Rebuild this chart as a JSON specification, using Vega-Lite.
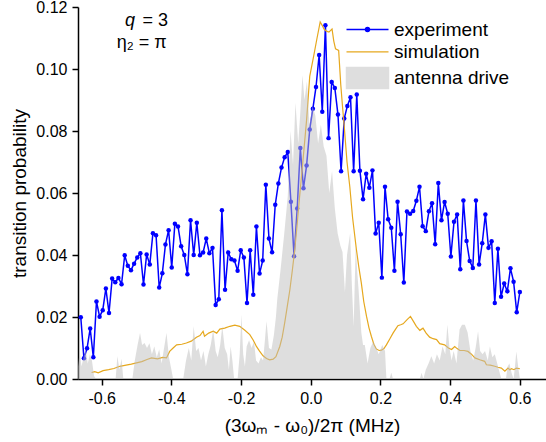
{
  "$schema": "https://vega.github.io/schema/vega-lite/v6.json",
  "width": 468,
  "height": 372,
  "autosize": {"type": "none"},
  "padding": {"left": 78, "top": 7, "right": 0, "bottom": 63},
  "background": "white",
  "config": {
    "view": {"stroke": null},
    "font": "Liberation Sans",
    "axis": {
      "grid": false,
      "domainColor": "black",
      "domainWidth": 1.5,
      "tickColor": "black",
      "tickWidth": 1.5,
      "labelColor": "black",
      "titleColor": "black",
      "labelFontSize": 16,
      "titleFontSize": 19,
      "titleFontWeight": "normal",
      "labelFlush": false,
      "labelOverlap": false
    }
  },
  "datasets": {
    "exp": [
      {"x": -0.660, "y": 0.0199}, {"x": -0.651, "y": 0.0067}, {"x": -0.642, "y": 0.0099}, {"x": -0.633, "y": 0.0163},
      {"x": -0.624, "y": 0.0070}, {"x": -0.615, "y": 0.0250}, {"x": -0.606, "y": 0.0201}, {"x": -0.597, "y": 0.0222},
      {"x": -0.588, "y": 0.0292}, {"x": -0.579, "y": 0.0213}, {"x": -0.570, "y": 0.0324}, {"x": -0.561, "y": 0.0312},
      {"x": -0.552, "y": 0.0326}, {"x": -0.543, "y": 0.0306}, {"x": -0.534, "y": 0.0399}, {"x": -0.525, "y": 0.0365},
      {"x": -0.516, "y": 0.0351}, {"x": -0.507, "y": 0.0372}, {"x": -0.498, "y": 0.0392}, {"x": -0.489, "y": 0.0406},
      {"x": -0.480, "y": 0.0305}, {"x": -0.471, "y": 0.0402}, {"x": -0.462, "y": 0.0369}, {"x": -0.453, "y": 0.0470},
      {"x": -0.444, "y": 0.0464}, {"x": -0.435, "y": 0.0295}, {"x": -0.426, "y": 0.0341}, {"x": -0.417, "y": 0.0434},
      {"x": -0.408, "y": 0.0480}, {"x": -0.399, "y": 0.0360}, {"x": -0.390, "y": 0.0501}, {"x": -0.381, "y": 0.0492},
      {"x": -0.372, "y": 0.0428}, {"x": -0.363, "y": 0.0400}, {"x": -0.354, "y": 0.0338}, {"x": -0.345, "y": 0.0512},
      {"x": -0.336, "y": 0.0400}, {"x": -0.327, "y": 0.0504}, {"x": -0.318, "y": 0.0399}, {"x": -0.309, "y": 0.0408},
      {"x": -0.300, "y": 0.0453}, {"x": -0.291, "y": 0.0406}, {"x": -0.282, "y": 0.0423}, {"x": -0.273, "y": 0.0239},
      {"x": -0.264, "y": 0.0257}, {"x": -0.255, "y": 0.0544}, {"x": -0.246, "y": 0.0288}, {"x": -0.237, "y": 0.0408},
      {"x": -0.228, "y": 0.0386}, {"x": -0.219, "y": 0.0382}, {"x": -0.210, "y": 0.0349}, {"x": -0.201, "y": 0.0415},
      {"x": -0.192, "y": 0.0392}, {"x": -0.183, "y": 0.0245}, {"x": -0.174, "y": 0.0415}, {"x": -0.165, "y": 0.0272},
      {"x": -0.156, "y": 0.0492}, {"x": -0.147, "y": 0.0340}, {"x": -0.138, "y": 0.0382}, {"x": -0.129, "y": 0.0627},
      {"x": -0.120, "y": 0.0453}, {"x": -0.111, "y": 0.0409}, {"x": -0.102, "y": 0.0562}, {"x": -0.093, "y": 0.0631},
      {"x": -0.084, "y": 0.0682}, {"x": -0.075, "y": 0.0715}, {"x": -0.066, "y": 0.0732}, {"x": -0.057, "y": 0.0572},
      {"x": -0.048, "y": 0.0396}, {"x": -0.039, "y": 0.0550}, {"x": -0.030, "y": 0.0745}, {"x": -0.021, "y": 0.0615},
      {"x": -0.012, "y": 0.0689}, {"x": -0.003, "y": 0.0805}, {"x": 0.006, "y": 0.0872}, {"x": 0.015, "y": 0.0942},
      {"x": 0.024, "y": 0.1045}, {"x": 0.033, "y": 0.0862}, {"x": 0.042, "y": 0.1141}, {"x": 0.051, "y": 0.0777},
      {"x": 0.060, "y": 0.0958}, {"x": 0.069, "y": 0.0939}, {"x": 0.078, "y": 0.0853}, {"x": 0.087, "y": 0.0670},
      {"x": 0.096, "y": 0.0840}, {"x": 0.105, "y": 0.0881}, {"x": 0.114, "y": 0.0909}, {"x": 0.123, "y": 0.0670},
      {"x": 0.132, "y": 0.0918}, {"x": 0.141, "y": 0.0672}, {"x": 0.150, "y": 0.0580}, {"x": 0.159, "y": 0.0662},
      {"x": 0.168, "y": 0.0617}, {"x": 0.177, "y": 0.0673}, {"x": 0.186, "y": 0.0469}, {"x": 0.195, "y": 0.0504},
      {"x": 0.204, "y": 0.0327}, {"x": 0.213, "y": 0.0620}, {"x": 0.222, "y": 0.0515}, {"x": 0.231, "y": 0.0488},
      {"x": 0.240, "y": 0.0349}, {"x": 0.249, "y": 0.0572}, {"x": 0.258, "y": 0.0467}, {"x": 0.267, "y": 0.0311},
      {"x": 0.276, "y": 0.0540}, {"x": 0.285, "y": 0.0533}, {"x": 0.294, "y": 0.0542}, {"x": 0.303, "y": 0.0575},
      {"x": 0.312, "y": 0.0620}, {"x": 0.321, "y": 0.0493}, {"x": 0.330, "y": 0.0477}, {"x": 0.339, "y": 0.0541},
      {"x": 0.348, "y": 0.0567}, {"x": 0.357, "y": 0.0435}, {"x": 0.366, "y": 0.0632}, {"x": 0.375, "y": 0.0512},
      {"x": 0.384, "y": 0.0571}, {"x": 0.393, "y": 0.0533}, {"x": 0.402, "y": 0.0395}, {"x": 0.411, "y": 0.0507},
      {"x": 0.420, "y": 0.0531}, {"x": 0.429, "y": 0.0354}, {"x": 0.438, "y": 0.0576}, {"x": 0.447, "y": 0.0445},
      {"x": 0.456, "y": 0.0381}, {"x": 0.465, "y": 0.0358}, {"x": 0.474, "y": 0.0576}, {"x": 0.483, "y": 0.0369},
      {"x": 0.492, "y": 0.0438}, {"x": 0.501, "y": 0.0531}, {"x": 0.510, "y": 0.0423}, {"x": 0.519, "y": 0.0444},
      {"x": 0.528, "y": 0.0245}, {"x": 0.537, "y": 0.0420}, {"x": 0.546, "y": 0.0265}, {"x": 0.555, "y": 0.0308},
      {"x": 0.564, "y": 0.0283}, {"x": 0.573, "y": 0.0357}, {"x": 0.582, "y": 0.0314}, {"x": 0.591, "y": 0.0215},
      {"x": 0.600, "y": 0.0281}
    ],
    "sim": [
      {"x": -0.629, "y": 0.0021}, {"x": -0.620, "y": 0.0024}, {"x": -0.610, "y": 0.0020}, {"x": -0.596, "y": 0.0027},
      {"x": -0.580, "y": 0.0030}, {"x": -0.565, "y": 0.0034}, {"x": -0.548, "y": 0.0041}, {"x": -0.530, "y": 0.0045},
      {"x": -0.515, "y": 0.0048}, {"x": -0.500, "y": 0.0052}, {"x": -0.485, "y": 0.0056}, {"x": -0.470, "y": 0.0063},
      {"x": -0.457, "y": 0.0068}, {"x": -0.440, "y": 0.0065}, {"x": -0.425, "y": 0.0070}, {"x": -0.414, "y": 0.0068},
      {"x": -0.405, "y": 0.0089}, {"x": -0.395, "y": 0.0100}, {"x": -0.385, "y": 0.0110}, {"x": -0.370, "y": 0.0112},
      {"x": -0.357, "y": 0.0116}, {"x": -0.343, "y": 0.0122}, {"x": -0.328, "y": 0.0135}, {"x": -0.318, "y": 0.0140},
      {"x": -0.309, "y": 0.0154}, {"x": -0.305, "y": 0.0138}, {"x": -0.293, "y": 0.0148}, {"x": -0.280, "y": 0.0154},
      {"x": -0.270, "y": 0.0148}, {"x": -0.261, "y": 0.0161}, {"x": -0.247, "y": 0.0164}, {"x": -0.232, "y": 0.0170},
      {"x": -0.218, "y": 0.0174}, {"x": -0.204, "y": 0.0170}, {"x": -0.190, "y": 0.0158}, {"x": -0.175, "y": 0.0143},
      {"x": -0.165, "y": 0.0125}, {"x": -0.156, "y": 0.0105}, {"x": -0.147, "y": 0.0090}, {"x": -0.137, "y": 0.0075},
      {"x": -0.127, "y": 0.0066}, {"x": -0.118, "y": 0.0062}, {"x": -0.108, "y": 0.0064}, {"x": -0.100, "y": 0.0072},
      {"x": -0.089, "y": 0.0105}, {"x": -0.082, "y": 0.0135}, {"x": -0.075, "y": 0.0180}, {"x": -0.068, "y": 0.0230},
      {"x": -0.060, "y": 0.0288}, {"x": -0.053, "y": 0.0350}, {"x": -0.046, "y": 0.0417}, {"x": -0.039, "y": 0.0500},
      {"x": -0.032, "y": 0.0589}, {"x": -0.022, "y": 0.0710}, {"x": -0.012, "y": 0.0836}, {"x": -0.003, "y": 0.0976},
      {"x": 0.008, "y": 0.1040}, {"x": 0.018, "y": 0.1100}, {"x": 0.027, "y": 0.1152}, {"x": 0.033, "y": 0.1140},
      {"x": 0.038, "y": 0.1129}, {"x": 0.045, "y": 0.1122}, {"x": 0.052, "y": 0.1119}, {"x": 0.061, "y": 0.1129},
      {"x": 0.066, "y": 0.1090}, {"x": 0.071, "y": 0.1065}, {"x": 0.080, "y": 0.1060}, {"x": 0.086, "y": 0.0950},
      {"x": 0.091, "y": 0.0880}, {"x": 0.096, "y": 0.0815}, {"x": 0.104, "y": 0.0700}, {"x": 0.112, "y": 0.0620},
      {"x": 0.120, "y": 0.0520}, {"x": 0.131, "y": 0.0417}, {"x": 0.138, "y": 0.0360}, {"x": 0.145, "y": 0.0310},
      {"x": 0.152, "y": 0.0250}, {"x": 0.160, "y": 0.0202}, {"x": 0.167, "y": 0.0165}, {"x": 0.174, "y": 0.0137},
      {"x": 0.181, "y": 0.0112}, {"x": 0.188, "y": 0.0097}, {"x": 0.196, "y": 0.0092}, {"x": 0.203, "y": 0.0093},
      {"x": 0.210, "y": 0.0098}, {"x": 0.217, "y": 0.0110}, {"x": 0.227, "y": 0.0130}, {"x": 0.236, "y": 0.0148},
      {"x": 0.243, "y": 0.0160}, {"x": 0.250, "y": 0.0172}, {"x": 0.258, "y": 0.0175}, {"x": 0.265, "y": 0.0178},
      {"x": 0.275, "y": 0.0190}, {"x": 0.286, "y": 0.0202}, {"x": 0.295, "y": 0.0185}, {"x": 0.303, "y": 0.0170},
      {"x": 0.313, "y": 0.0157}, {"x": 0.322, "y": 0.0164}, {"x": 0.331, "y": 0.0148}, {"x": 0.341, "y": 0.0135},
      {"x": 0.351, "y": 0.0130}, {"x": 0.361, "y": 0.0127}, {"x": 0.370, "y": 0.0114}, {"x": 0.384, "y": 0.0110},
      {"x": 0.395, "y": 0.0100}, {"x": 0.404, "y": 0.0095}, {"x": 0.413, "y": 0.0105}, {"x": 0.420, "y": 0.0098},
      {"x": 0.428, "y": 0.0092}, {"x": 0.440, "y": 0.0092}, {"x": 0.451, "y": 0.0089}, {"x": 0.461, "y": 0.0080},
      {"x": 0.471, "y": 0.0068}, {"x": 0.485, "y": 0.0062}, {"x": 0.499, "y": 0.0057}, {"x": 0.504, "y": 0.0046},
      {"x": 0.515, "y": 0.0045}, {"x": 0.528, "y": 0.0041}, {"x": 0.537, "y": 0.0038}, {"x": 0.547, "y": 0.0035},
      {"x": 0.557, "y": 0.0025}, {"x": 0.566, "y": 0.0035}, {"x": 0.571, "y": 0.0030}, {"x": 0.576, "y": 0.0033},
      {"x": 0.583, "y": 0.0030}, {"x": 0.590, "y": 0.0035}, {"x": 0.600, "y": 0.0033}
    ],
    "ant": [
      {"x": -0.668, "y": 0.004}, {"x": -0.663, "y": 0.009}, {"x": -0.658, "y": 0.004}, {"x": -0.652, "y": 0.007},
      {"x": -0.646, "y": 0.0095}, {"x": -0.640, "y": 0.005}, {"x": -0.634, "y": 0.008}, {"x": -0.628, "y": 0.006},
      {"x": -0.622, "y": 0.001}, {"x": -0.616, "y": 0.0}, {"x": -0.560, "y": 0.0}, {"x": -0.555, "y": 0.0073},
      {"x": -0.549, "y": 0.003}, {"x": -0.543, "y": 0.0065}, {"x": -0.538, "y": 0.0}, {"x": -0.512, "y": 0.0},
      {"x": -0.505, "y": 0.006}, {"x": -0.497, "y": 0.011}, {"x": -0.490, "y": 0.0148}, {"x": -0.484, "y": 0.011},
      {"x": -0.477, "y": 0.0116}, {"x": -0.470, "y": 0.010}, {"x": -0.463, "y": 0.0115}, {"x": -0.456, "y": 0.008},
      {"x": -0.449, "y": 0.0105}, {"x": -0.442, "y": 0.007}, {"x": -0.435, "y": 0.0095}, {"x": -0.428, "y": 0.005},
      {"x": -0.421, "y": 0.010}, {"x": -0.414, "y": 0.0148}, {"x": -0.407, "y": 0.007}, {"x": -0.400, "y": 0.003},
      {"x": -0.395, "y": 0.0}, {"x": -0.366, "y": 0.0}, {"x": -0.358, "y": 0.006}, {"x": -0.350, "y": 0.010},
      {"x": -0.343, "y": 0.006}, {"x": -0.336, "y": 0.017}, {"x": -0.329, "y": 0.009}, {"x": -0.322, "y": 0.010},
      {"x": -0.315, "y": 0.006}, {"x": -0.308, "y": 0.009}, {"x": -0.301, "y": 0.004}, {"x": -0.294, "y": 0.008},
      {"x": -0.287, "y": 0.011}, {"x": -0.280, "y": 0.016}, {"x": -0.273, "y": 0.009}, {"x": -0.267, "y": 0.007},
      {"x": -0.260, "y": 0.011}, {"x": -0.254, "y": 0.017}, {"x": -0.247, "y": 0.010}, {"x": -0.240, "y": 0.008},
      {"x": -0.235, "y": 0.003}, {"x": -0.230, "y": 0.0105}, {"x": -0.225, "y": 0.006}, {"x": -0.220, "y": 0.0},
      {"x": -0.210, "y": 0.0}, {"x": -0.204, "y": 0.008}, {"x": -0.199, "y": 0.0207}, {"x": -0.194, "y": 0.008},
      {"x": -0.189, "y": 0.004}, {"x": -0.184, "y": 0.0105}, {"x": -0.177, "y": 0.0125}, {"x": -0.170, "y": 0.010},
      {"x": -0.163, "y": 0.012}, {"x": -0.157, "y": 0.006}, {"x": -0.150, "y": 0.005}, {"x": -0.143, "y": 0.007},
      {"x": -0.137, "y": 0.006}, {"x": -0.132, "y": 0.012}, {"x": -0.127, "y": 0.0186}, {"x": -0.120, "y": 0.010},
      {"x": -0.113, "y": 0.0095}, {"x": -0.106, "y": 0.014}, {"x": -0.100, "y": 0.020}, {"x": -0.096, "y": 0.026},
      {"x": -0.086, "y": 0.036}, {"x": -0.076, "y": 0.047}, {"x": -0.066, "y": 0.059}, {"x": -0.058, "y": 0.080},
      {"x": -0.051, "y": 0.069}, {"x": -0.044, "y": 0.089}, {"x": -0.036, "y": 0.076}, {"x": -0.030, "y": 0.086},
      {"x": -0.024, "y": 0.098}, {"x": -0.018, "y": 0.090}, {"x": -0.011, "y": 0.096}, {"x": -0.004, "y": 0.082},
      {"x": 0.005, "y": 0.088}, {"x": 0.013, "y": 0.085}, {"x": 0.021, "y": 0.076}, {"x": 0.029, "y": 0.082},
      {"x": 0.037, "y": 0.075}, {"x": 0.045, "y": 0.072}, {"x": 0.053, "y": 0.060}, {"x": 0.061, "y": 0.067},
      {"x": 0.069, "y": 0.055}, {"x": 0.077, "y": 0.047}, {"x": 0.085, "y": 0.043}, {"x": 0.091, "y": 0.041},
      {"x": 0.098, "y": 0.028}, {"x": 0.104, "y": 0.040}, {"x": 0.113, "y": 0.047}, {"x": 0.118, "y": 0.030},
      {"x": 0.123, "y": 0.017}, {"x": 0.129, "y": 0.043}, {"x": 0.133, "y": 0.035}, {"x": 0.137, "y": 0.029},
      {"x": 0.145, "y": 0.015}, {"x": 0.150, "y": 0.011}, {"x": 0.155, "y": 0.011}, {"x": 0.163, "y": 0.005},
      {"x": 0.171, "y": 0.010}, {"x": 0.179, "y": 0.012}, {"x": 0.188, "y": 0.010}, {"x": 0.195, "y": 0.008},
      {"x": 0.205, "y": 0.011}, {"x": 0.213, "y": 0.009}, {"x": 0.217, "y": 0.0}, {"x": 0.226, "y": 0.0},
      {"x": 0.231, "y": 0.002}, {"x": 0.236, "y": 0.0}, {"x": 0.313, "y": 0.0}, {"x": 0.318, "y": 0.002},
      {"x": 0.323, "y": 0.0}, {"x": 0.330, "y": 0.003}, {"x": 0.338, "y": 0.005}, {"x": 0.346, "y": 0.0073},
      {"x": 0.354, "y": 0.005}, {"x": 0.362, "y": 0.008}, {"x": 0.370, "y": 0.006}, {"x": 0.378, "y": 0.0105},
      {"x": 0.386, "y": 0.008}, {"x": 0.392, "y": 0.0175}, {"x": 0.398, "y": 0.010}, {"x": 0.404, "y": 0.006},
      {"x": 0.410, "y": 0.009}, {"x": 0.418, "y": 0.005}, {"x": 0.427, "y": 0.016}, {"x": 0.434, "y": 0.0175},
      {"x": 0.442, "y": 0.0175}, {"x": 0.450, "y": 0.015}, {"x": 0.458, "y": 0.009}, {"x": 0.466, "y": 0.006},
      {"x": 0.473, "y": 0.010}, {"x": 0.480, "y": 0.0153}, {"x": 0.486, "y": 0.009}, {"x": 0.493, "y": 0.008},
      {"x": 0.500, "y": 0.009}, {"x": 0.508, "y": 0.006}, {"x": 0.514, "y": 0.0105}, {"x": 0.521, "y": 0.007},
      {"x": 0.528, "y": 0.008}, {"x": 0.535, "y": 0.005}, {"x": 0.542, "y": 0.002}, {"x": 0.547, "y": 0.0},
      {"x": 0.560, "y": 0.0}, {"x": 0.565, "y": 0.004}, {"x": 0.570, "y": 0.005}, {"x": 0.576, "y": 0.002},
      {"x": 0.582, "y": 0.0}, {"x": 0.586, "y": 0.004}, {"x": 0.590, "y": 0.0089}, {"x": 0.595, "y": 0.004},
      {"x": 0.600, "y": 0.0}
    ],
    "noteItalic": [{"x": -0.5044, "y": 0.114, "label": "q"}],
    "noteLeft": [{"x": -0.4829, "y": 0.114, "label": "= 3"}],
    "notes": [{"x": -0.4135, "y": 0.1069, "label": "η₂ = π"}]
  },
  "layer": [
    {
      "data": {"name": "exp"},
      "mark": {"type": "line", "strokeWidth": 1.5},
      "encoding": {
        "x": {
          "field": "x", "type": "quantitative",
          "scale": {"domain": [-0.668, 0.675], "nice": false, "zero": false},
          "axis": {
            "values": [-0.6, -0.5, -0.4, -0.3, -0.2, -0.1, 0, 0.1, 0.2, 0.3, 0.4, 0.5, 0.6],
            "labelExpr": "round(datum.value*10) % 2 === 0 ? (datum.value < -0.001 ? '-' : '') + format(abs(datum.value), '.1f') : ''",
            "tickSize": {"condition": {"test": "round(datum.value*10) % 2 === 0", "value": 6}, "value": 3.5},
            "labelPadding": 5,
            "title": "(3ωₘ - ω₀)/2π (MHz)",
            "titlePadding": 10
          }
        },
        "y": {
          "field": "y", "type": "quantitative",
          "scale": {"domain": [0, 0.12], "nice": false},
          "axis": {
            "values": [0, 0.01, 0.02, 0.03, 0.04, 0.05, 0.06, 0.07, 0.08, 0.09, 0.1, 0.11, 0.12],
            "labelExpr": "round(datum.value*100) % 2 === 0 ? format(datum.value, '.2f') : ''",
            "tickSize": {"condition": {"test": "round(datum.value*100) % 2 === 0", "value": 6}, "value": 3.5},
            "labelPadding": 5,
            "title": "transition probability",
            "titlePadding": 6
          }
        },
        "color": {
          "datum": "experiment", "type": "nominal",
          "scale": {"domain": ["experiment", "simulation", "antenna drive"], "range": ["#0000ff", "#e6a81e", "#dedede"]},
          "legend": {
            "orient": "none",
            "legendX": 280,
            "legendY": 13,
            "title": null,
            "padding": 0,
            "labelFontSize": 19,
            "labelFont": "Liberation Sans",
            "labelColor": "black",
            "labelLimit": 300,
            "symbolSize": 441,
            "labelOffset": 17,
            "rowPadding": 2.3,
            "encode": {
              "symbols": {
                "update": {
                  "shape": {"signal": "datum.value === 'experiment' ? 'M-2,0L2,0M-0.19,0A0.19,0.19,0,1,0,0.19,0A0.19,0.19,0,1,0,-0.19,0Z' : (datum.value === 'simulation' ? 'M-2,0L2,0' : 'M-2,-1L2,-1L2,1L-2,1Z')"},
                  "fill": {"signal": "datum.value === 'experiment' ? '#0000ff' : (datum.value === 'simulation' ? 'transparent' : '#dedede')"},
                  "stroke": {"signal": "datum.value === 'experiment' ? '#0000ff' : (datum.value === 'simulation' ? '#e6a81e' : 'transparent')"},
                  "strokeWidth": {"signal": "datum.value === 'simulation' ? 1.2 : 1.5"},
                  "size": {"value": 441},
                  "opacity": {"value": 1},
                  "fillOpacity": {"value": 1},
                  "strokeOpacity": {"value": 1}
                }
              }
            }
          }
        }
      }
    },
    {
      "data": {"name": "exp"},
      "mark": {"type": "point", "filled": true, "size": 20, "opacity": 1},
      "encoding": {
        "x": {"field": "x", "type": "quantitative"},
        "y": {"field": "y", "type": "quantitative"},
        "color": {"datum": "experiment", "type": "nominal"}
      }
    },
    {
      "data": {"name": "sim"},
      "mark": {"type": "line", "strokeWidth": 1.2},
      "encoding": {
        "x": {"field": "x", "type": "quantitative"},
        "y": {"field": "y", "type": "quantitative"},
        "color": {"datum": "simulation", "type": "nominal"}
      }
    },
    {
      "data": {"name": "ant"},
      "mark": {"type": "area", "color": "#bdbdbd", "opacity": 0.5},
      "encoding": {
        "x": {"field": "x", "type": "quantitative"},
        "y": {"field": "y", "type": "quantitative"}
      }
    },
    {
      "data": {"name": "noteItalic"},
      "mark": {"type": "text", "align": "right", "baseline": "alphabetic", "fontSize": 18, "fontStyle": "italic", "font": "Liberation Sans", "color": "black"},
      "encoding": {
        "x": {"field": "x", "type": "quantitative"},
        "y": {"field": "y", "type": "quantitative"},
        "text": {"field": "label"}
      }
    },
    {
      "data": {"name": "noteLeft"},
      "mark": {"type": "text", "align": "left", "baseline": "alphabetic", "fontSize": 18, "font": "Liberation Sans", "color": "black"},
      "encoding": {
        "x": {"field": "x", "type": "quantitative"},
        "y": {"field": "y", "type": "quantitative"},
        "text": {"field": "label"}
      }
    },
    {
      "data": {"name": "notes"},
      "mark": {"type": "text", "align": "right", "baseline": "alphabetic", "fontSize": 18, "font": "Liberation Sans", "color": "black"},
      "encoding": {
        "x": {"field": "x", "type": "quantitative"},
        "y": {"field": "y", "type": "quantitative"},
        "text": {"field": "label"}
      }
    }
  ]
}
